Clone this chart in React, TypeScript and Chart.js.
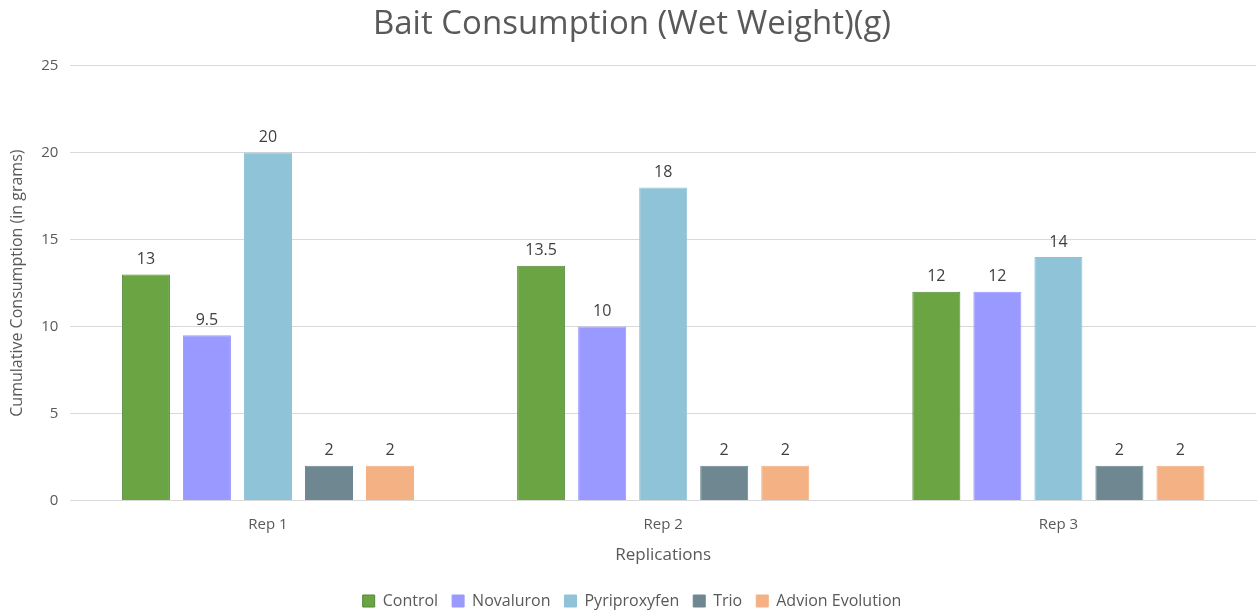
import React, { useEffect, useRef } from "react";
import { Chart, registerables } from "chart.js";

Chart.register(...registerables);

const categories = ["Rep 1", "Rep 2", "Rep 3"];
const seriesNames = ["Control", "Novaluron", "Pyriproxyfen", "Trio", "Advion Evolution"];
const control = [13, 13.5, 12];
const novaluron = [9.5, 10, 12];
const pyriproxyfen = [20, 18, 14];
const trio = [2, 2, 2];
const advion = [2, 2, 2];
const fills = ["#6aa443", "#9999ff", "#8fc3d8", "#6e8791", "#f4b183"];
const borders = ["#53883a", "#9999ff", "#8fc3d8", "#6e8791", "#f4b183"];

const FONT = "'Open Sans', 'Noto Sans', sans-serif";

const labelPlugin = {
  id: "barLabels",
  afterDatasetsDraw(chart: any) {
    const ctx = chart.ctx;
    ctx.save();
    ctx.font = `16px ${FONT}`;
    ctx.fillStyle = "#404040";
    ctx.textAlign = "center";
    ctx.textBaseline = "bottom";
    chart.data.datasets.forEach((ds: any, i: number) => {
      const meta = chart.getDatasetMeta(i);
      meta.data.forEach((bar: any, j: number) => {
        ctx.fillText(String(ds.data[j]), bar.x, bar.y - 7);
      });
    });
    ctx.restore();
  },
};

export default function App() {
  const ref = useRef<HTMLCanvasElement>(null);
  useEffect(() => {
    document.body.style.margin = "0";
    const values = [control, novaluron, pyriproxyfen, trio, advion];
    const chart = new Chart(ref.current!, {
      type: "bar",
      data: {
        labels: categories,
        datasets: seriesNames.map((name, i) => ({
          label: name,
          data: values[i],
          backgroundColor: fills[i],
          borderColor: borders[i],
          borderWidth: 1,
          categoryPercentage: 0.772,
          barPercentage: 0.787,
        })),
      },
      options: {
        animation: false,
        responsive: false,
        maintainAspectRatio: false,
        layout: { padding: { left: 8, right: 2, top: 5, bottom: -6 } },
        plugins: {
          title: {
            display: true,
            text: "Bait Consumption (Wet Weight)(g)",
            color: "#595959",
            font: { family: FONT, size: 33, weight: "normal" },
            padding: { top: 0, bottom: 21 },
          },
          legend: {
            position: "bottom",
            labels: {
              color: "#595959",
              font: { family: FONT, size: 16 },
              boxWidth: 12,
              boxHeight: 12,
              padding: 14,
            },
          },
          tooltip: { enabled: false },
        },
        scales: {
          x: {
            grid: { display: false, drawTicks: false },
            border: { display: true, color: "#d9d9d9" },
            ticks: { color: "#595959", font: { family: FONT, size: 15 }, padding: 15 },
            title: {
              display: true,
              text: "Replications",
              color: "#595959",
              font: { family: FONT, size: 17 },
              padding: { top: -4, bottom: 14 },
            },
          },
          y: {
            min: 0,
            max: 25,
            ticks: { stepSize: 5, color: "#595959", font: { family: FONT, size: 15 }, padding: 12 },
            grid: { color: "#d9d9d9", drawTicks: false },
            border: { display: false },
            title: {
              display: true,
              text: "Cumulative Consumption (in grams)",
              color: "#595959",
              font: { family: FONT, size: 16 },
              padding: { top: 0, bottom: 2 },
            },
          },
        },
      },
      plugins: [labelPlugin],
    });
    return () => chart.destroy();
  }, []);
  return <canvas ref={ref} width={1258} height={613} style={{ display: "block" }} />;
}
